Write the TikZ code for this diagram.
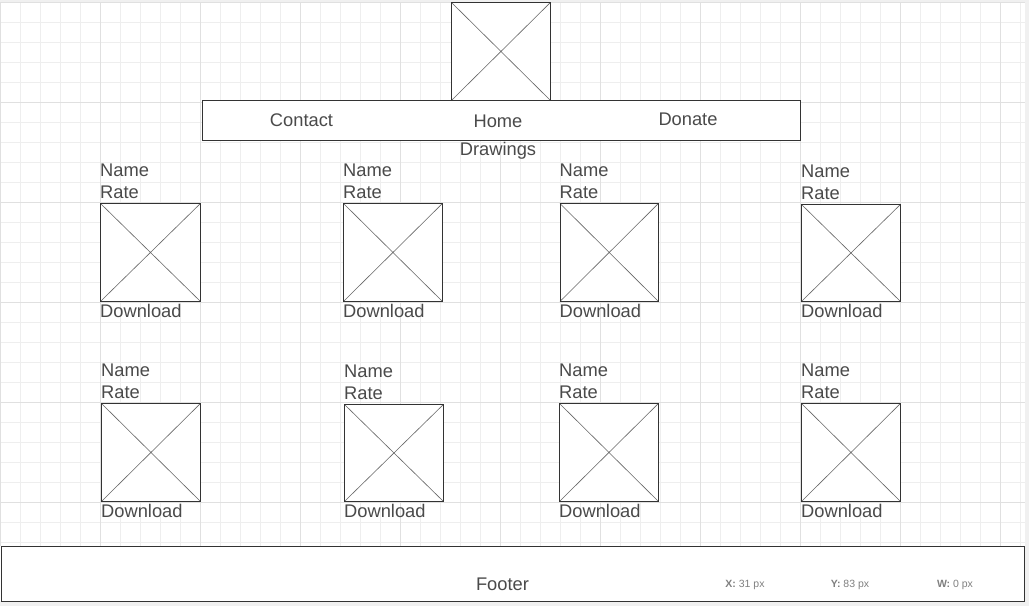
\documentclass[tikz,border=0pt]{standalone}
\usepackage{fontspec}
\setmainfont{Liberation Sans}
\usepackage{tikz}
\usetikzlibrary{positioning}
\definecolor{inkline}{HTML}{333333}
\definecolor{inktext}{HTML}{4A4A4A}
\definecolor{gridminor}{HTML}{EEEEEE}
\definecolor{gridmajor}{HTML}{E0E0E0}

\begin{document}
\begin{tikzpicture}[
  x=1pt, y=-1pt,
  font=\fontsize{18.3}{21}\selectfont, text=inktext,
  frame/.style   = {draw=inkline, line width=0.9pt, fill=white},
  imgbox/.style  = {frame, minimum width=100pt, minimum height=98pt, inner sep=0pt,
                    path picture={
                      \draw[inkline!75, line width=0.6pt]
                        (path picture bounding box.north west) -- (path picture bounding box.south east)
                        (path picture bounding box.south west) -- (path picture bounding box.north east);}},
  txt/.style     = {inner sep=0pt, anchor=base west},
  navtxt/.style  = {inner sep=0pt, anchor=base},
  info/.style    = {inner sep=0pt, anchor=base, font=\fontsize{10.5}{12}\selectfont, text=gray}
]

\def\rategap{5pt}
\def\linegap{21.6pt}
\def\dlgap{15.7pt}

\useasboundingbox (0,0) rectangle (1029,606);

% ============================ canvas and grid ===============================
\fill[gray!12] (0,0) rectangle (1029,606);
\fill[white] (0,2.7) rectangle (1025,601);
\begin{scope}[y=1pt, shift={(0.7pt,-2.7pt)}]
  \draw[gridminor, line width=0.8pt, step=20] (-0.7,-543.3) grid (1024.3,0);
  \draw[gridmajor, line width=0.9pt, step=100] (-0.7,-543.3) grid (1024.3,0);
\end{scope}

% ================================ header ====================================
\node[imgbox, minimum width=99pt, anchor=north west] (logo) at (451,2) {};
\node[frame, minimum width=598pt, minimum height=40pt, anchor=north west] (nav) at (202,100) {};
\node[navtxt] (contact) at (301.5,126.7) {Contact};
\node[navtxt] (home)    at (498,127)     {Home};
\node[navtxt] (donate)  at (688,125)     {Donate};
\node[navtxt] (drawings) at (498,155.3)  {Drawings};

% ============================== first row ===================================
\node[imgbox, anchor=north west] (img1) at (100,203) {};
\node[txt, above=\rategap of img1.north west, anchor=base west] (rate1) {Rate};
\node[txt, above=\linegap of rate1.base west, anchor=base west] (name1) {Name};
\node[txt, below=\dlgap of img1.south west, anchor=base west] (dl1) {Download};

\node[imgbox, minimum width=99pt, anchor=north west] (img2) at (343,203) {};
\node[txt, above=\rategap of img2.north west, anchor=base west] (rate2) {Rate};
\node[txt, above=\linegap of rate2.base west, anchor=base west] (name2) {Name};
\node[txt, below=\dlgap of img2.south west, anchor=base west] (dl2) {Download};

\node[imgbox, minimum width=98.5pt, anchor=north west] (img3) at (559.5,203) {};
\node[txt, above=\rategap of img3.north west, anchor=base west] (rate3) {Rate};
\node[txt, above=\linegap of rate3.base west, anchor=base west] (name3) {Name};
\node[txt, below=\dlgap of img3.south west, anchor=base west] (dl3) {Download};

\node[imgbox, minimum width=99pt, minimum height=97pt, anchor=north west] (img4) at (801,204) {};
\node[txt, above=\rategap of img4.north west, anchor=base west] (rate4) {Rate};
\node[txt, above=\linegap of rate4.base west, anchor=base west] (name4) {Name};
\node[txt, below=\dlgap of img4.south west, anchor=base west] (dl4) {Download};

% ============================== second row ==================================
\node[imgbox, minimum width=99pt, anchor=north west] (img5) at (101,403) {};
\node[txt, above=\rategap of img5.north west, anchor=base west] (rate5) {Rate};
\node[txt, above=\linegap of rate5.base west, anchor=base west] (name5) {Name};
\node[txt, below=\dlgap of img5.south west, anchor=base west] (dl5) {Download};

\node[imgbox, minimum width=99pt, minimum height=97pt, anchor=north west] (img6) at (344,404) {};
\node[txt, above=\rategap of img6.north west, anchor=base west] (rate6) {Rate};
\node[txt, above=\linegap of rate6.base west, anchor=base west] (name6) {Name};
\node[txt, below=\dlgap of img6.south west, anchor=base west] (dl6) {Download};

\node[imgbox, minimum width=99pt, anchor=north west] (img7) at (559,403) {};
\node[txt, above=\rategap of img7.north west, anchor=base west] (rate7) {Rate};
\node[txt, above=\linegap of rate7.base west, anchor=base west] (name7) {Name};
\node[txt, below=\dlgap of img7.south west, anchor=base west] (dl7) {Download};

\node[imgbox, minimum width=99pt, anchor=north west] (img8) at (801,403) {};
\node[txt, above=\rategap of img8.north west, anchor=base west] (rate8) {Rate};
\node[txt, above=\linegap of rate8.base west, anchor=base west] (name8) {Name};
\node[txt, below=\dlgap of img8.south west, anchor=base west] (dl8) {Download};

% ================================ footer ====================================
\node[frame, minimum width=1023pt, minimum height=55pt, anchor=north west] (footer) at (0.5,546) {};
\node[navtxt] (footertxt) at (502.5,590) {Footer};
\node[info] (posx) at (745,587) {\textbf{X:} 31 px};
\node[info] (posy) at (850,587) {\textbf{Y:} 83 px};
\node[info] (posw) at (955,587) {\textbf{W:} 0 px};

\end{tikzpicture}
\end{document}
